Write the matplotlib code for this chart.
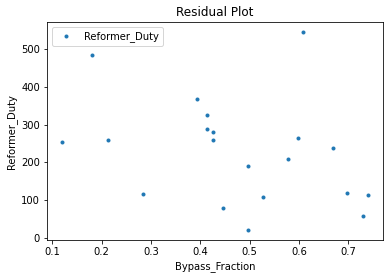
import matplotlib
matplotlib.use("Agg")
import matplotlib.pyplot as plt

bypass_fraction = [0.120, 0.181, 0.212, 0.283, 0.394, 0.414, 0.414, 0.425, 0.425,
                   0.445, 0.496, 0.496, 0.526, 0.577, 0.597, 0.607, 0.668, 0.698,
                   0.729, 0.739]
reformer_duty = [253, 483, 259, 117, 367, 325, 288, 280, 259,
                 79, 191, 21, 108, 208, 264, 544, 237, 119,
                 58, 113]

dpi = 72
fig = plt.figure(figsize=(389 / dpi, 279 / dpi), dpi=dpi)
ax = fig.add_axes([47 / 389, 1 - 240.2 / 279, (383 - 47) / 389, (240.2 - 22.3) / 279])
ax.plot(bypass_fraction, reformer_duty, '.', color='#1f77b4', label='Reformer_Duty')
ax.set_title('Residual Plot')
ax.set_xlabel('Bypass_Fraction')
ax.set_ylabel('Reformer_Duty')
ax.legend(loc='upper left')
fig.savefig('out.png', dpi=dpi)
